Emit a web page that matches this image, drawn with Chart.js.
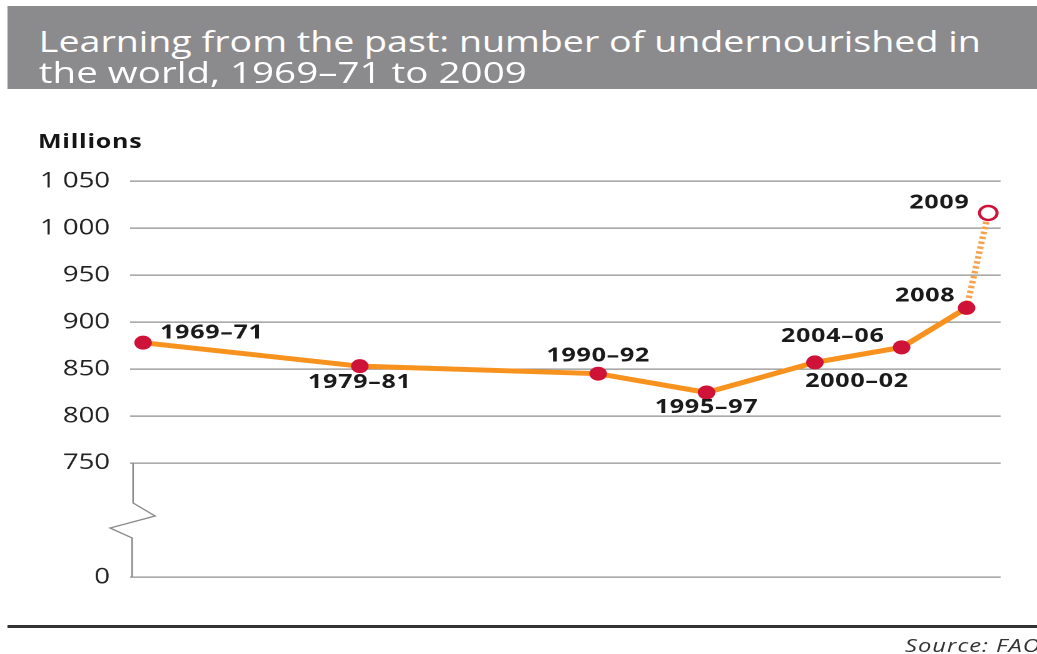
<!DOCTYPE html>
<html>
<head>
<meta charset="utf-8">
<script src="https://cdn.jsdelivr.net/npm/chart.js@4.4.1/dist/chart.umd.min.js"></script>
<style>
    html, body { margin: 0; padding: 0; background: #fff; }
    body { width: 1037px; height: 654px; overflow: hidden; position: relative; font-family: 'Open Sans', sans-serif; }
    /* the reference is stretched sideways, so everything lives in a squeezed box scaled back out */
    #page { position: absolute; left: 0; top: 0; width: 829.6px; height: 654px; transform: scaleX(1.25); transform-origin: 0 0; }
    #titleBox { position: absolute; left: 5.6px; top: 6px; width: 830px; height: 83px; background: #8b8b8d; }
    .tline { position: absolute; left: 25px; color: #fff; font-size: 29px; white-space: nowrap; transform-origin: 0 0; line-height: 1; }
    #millions { position: absolute; left: 30.4px; top: 131px; font-size: 20px; font-weight: 700; color: #151515; line-height: 1; letter-spacing: 0.6px; }
    #rule { position: absolute; left: 5.6px; top: 625px; width: 830px; height: 3px; background: #333; }
    #source { position: absolute; left: 724px; top: 636px; font-size: 19px; font-style: italic; color: #333; white-space: nowrap; line-height: 1; letter-spacing: 0.8px; }
    #chartWrap { position: absolute; left: 0; top: 0; width: 829.6px; height: 654px; }
</style>
</head>
<body>
<div id="page">
    <div id="titleBox">
        <span class="tline" id="t1" style="top:20px">Learning from the past: number of undernourished in</span>
        <span class="tline" id="t2" style="top:51px">the world, 1969–71 to 2009</span>
    </div>
    <div id="millions">Millions</div>
    <div id="chartWrap"><canvas id="hungerChart"></canvas></div>
    <div id="rule"></div>
    <div id="source">Source: FAO</div>
</div>
<script>
// Data
const periods = ['1969–71', '1979–81', '1990–92', '1995–97', '2000–02', '2004–06', '2008', '2009'];
const midYears = [1970, 1980, 1991, 1996, 2001, 2005, 2008, 2009];
const undernourished = [878, 853, 845, 825, 857, 873, 915, 1016];

// Axis: broken below 750, the "0" tick sits on a virtual floor
const yBreakFloor = 628.7;
const yTicks = [yBreakFloor, 750, 800, 850, 900, 950, 1000, 1050];
const yTickLabels = ['0', '750', '800', '850', '900', '950', '1 000', '1 050'];

// label placement around each point: [dx, dy, align]
const labelPos = [
    [13.6, -10, 'left'], [0, 16, 'center'], [0, -18, 'center'], [0, 15, 'center'],
    [33.6, 19, 'center'], [-55, -11, 'center'], [-9, -12, 'right'], [-15, -10, 'right']
];

const ORANGE = '#f7921e';
const CRIMSON = '#cf1237';

document.addEventListener('DOMContentLoaded', function () {
    // squeeze title lines to the width they have in the picture
    fitWidth('t1', 942 / 1.25);
    fitWidth('t2', 488 / 1.25);

    const last = undernourished.length - 1;

    const axisBreak = {
        id: 'axisBreak',
        afterDraw(chart) {
            const c = chart.ctx, y = chart.scales.y, left = chart.chartArea.left;
            const top = y.getPixelForValue(750), bottom = y.getPixelForValue(yBreakFloor);
            c.save();
            c.strokeStyle = '#8a8a8a';
            c.lineWidth = 1.3;
            c.beginPath();
            c.moveTo(left + 2.4, top);
            c.lineTo(left + 2.4, top + 40);
            c.lineTo(left + 20, top + 53);
            c.lineTo(left - 16, top + 65);
            c.lineTo(left + 1.6, top + 75);
            c.lineTo(left + 1.6, bottom);
            c.stroke();
            c.restore();
        }
    };

    const pointLabels = {
        id: 'pointLabels',
        afterDatasetsDraw(chart) {
            const c = chart.ctx, meta = chart.getDatasetMeta(0);
            c.save();
            c.font = '700 20px "Open Sans"';
            c.letterSpacing = '0.6px';
            c.fillStyle = '#1a1a1a';
            c.textBaseline = 'middle';
            meta.data.forEach((pt, i) => {
                const p = labelPos[i];
                c.textAlign = p[2];
                c.fillText(periods[i], pt.x + p[0], pt.y + p[1]);
            });
            c.restore();
        }
    };

    new Chart(document.getElementById('hungerChart'), {
        type: 'line',
        data: {
            datasets: [{
                data: midYears.map((yr, i) => ({ x: yr, y: undernourished[i] })),
                borderColor: ORANGE,
                borderWidth: 5,
                tension: 0,
                clip: false,
                pointRadius: 7,
                pointHoverRadius: 7,
                pointBackgroundColor: undernourished.map((v, i) => i === last ? '#fff' : CRIMSON),
                pointBorderColor: CRIMSON,
                pointBorderWidth: undernourished.map((v, i) => i === last ? 2.5 : 0),
                segment: {
                    borderDash: ctx => ctx.p1DataIndex === last ? [2.5, 2.5] : undefined,
                    borderColor: ctx => ctx.p1DataIndex === last ? '#f6a24c' : undefined
                }
            }]
        },
        options: {
            responsive: true,
            maintainAspectRatio: false,
            animation: false,
            devicePixelRatio: 2,
            layout: { padding: { top: 181, bottom: 77, left: 0, right: 29.6 } },
            plugins: { legend: { display: false }, tooltip: { enabled: false } },
            scales: {
                x: { type: 'linear', min: 1969.4, max: 2009.57, display: false },
                y: {
                    min: yBreakFloor, max: 1050,
                    afterFit: s => { s.width = 104; },
                    afterBuildTicks: s => { s.ticks = yTicks.map(v => ({ value: v })); },
                    border: { display: false },
                    grid: { color: '#8f8f8f', lineWidth: 1.3, drawTicks: false },
                    ticks: {
                        padding: 16,
                        color: '#222',
                        font: { family: 'Open Sans', size: 22 },
                        callback: (v, i) => yTickLabels[i]
                    }
                }
            }
        },
        plugins: [axisBreak, pointLabels]
    });

    function fitWidth(id, target) {
        const el = document.getElementById(id);
        if (!el) return;
        const w = el.getBoundingClientRect().width / 1.25;
        el.style.transform = 'scaleX(' + (target / w) + ')';
    }
});
</script>
</body>
</html>
